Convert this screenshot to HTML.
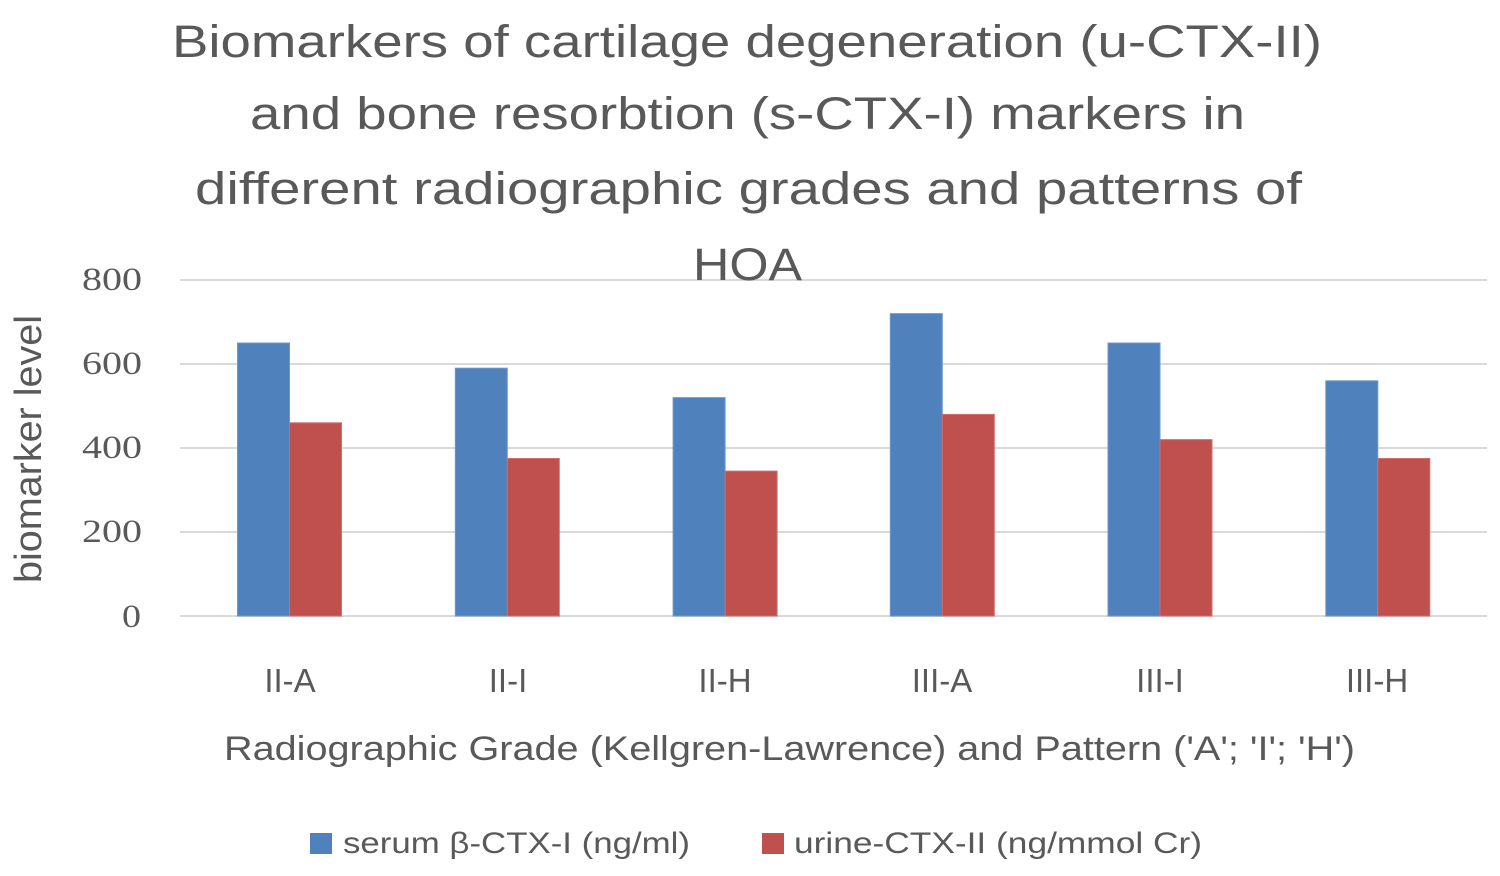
<!DOCTYPE html>
<html>
<head>
<meta charset="utf-8">
<style>
  html, body { margin: 0; padding: 0; background: #ffffff; }
  svg { display: block; }
  text { fill: #595959; font-family: "Liberation Sans", sans-serif; }
  .serif { font-family: "Liberation Serif", serif; }
</style>
</head>
<body>
<svg width="1500" height="876" viewBox="0 0 1500 876" xmlns="http://www.w3.org/2000/svg">
  <rect x="0" y="0" width="1500" height="876" fill="#ffffff"/>

  <!-- Title -->
  <text x="172" y="57" font-size="45" textLength="1150" lengthAdjust="spacingAndGlyphs">Biomarkers of cartilage degeneration (u-CTX-II)</text>
  <text x="250" y="129" font-size="45" textLength="995" lengthAdjust="spacingAndGlyphs">and bone resorbtion (s-CTX-I) markers in</text>
  <text x="195" y="204" font-size="45" textLength="1107" lengthAdjust="spacingAndGlyphs">different radiographic grades and patterns of</text>

  <!-- Gridlines -->
  <g stroke="#D9D9D9" stroke-width="2">
    <line x1="180" y1="280" x2="1487" y2="280"/>
    <line x1="180" y1="364" x2="1487" y2="364"/>
    <line x1="180" y1="448" x2="1487" y2="448"/>
    <line x1="180" y1="532" x2="1487" y2="532"/>
    <line x1="180" y1="616" x2="1487" y2="616"/>
  </g>

  <text x="693" y="280" font-size="45" textLength="109" lengthAdjust="spacingAndGlyphs">HOA</text>

  <!-- Y tick labels -->
  <g class="serif" font-size="33" text-anchor="end">
    <text class="serif" x="142" y="290" textLength="60" lengthAdjust="spacingAndGlyphs">800</text>
    <text class="serif" x="142" y="374" textLength="60" lengthAdjust="spacingAndGlyphs">600</text>
    <text class="serif" x="142" y="458" textLength="60" lengthAdjust="spacingAndGlyphs">400</text>
    <text class="serif" x="142" y="542" textLength="60" lengthAdjust="spacingAndGlyphs">200</text>
    <text class="serif" x="141" y="627" textLength="19" lengthAdjust="spacingAndGlyphs">0</text>
  </g>

  <!-- Y axis title -->
  <text transform="translate(41,449) rotate(-90)" x="0" y="0" font-size="38" text-anchor="middle" textLength="268" lengthAdjust="spacingAndGlyphs">biomarker level</text>

  <!-- Bars: blue -->
  <g fill="#4F81BD" stroke="#6E98CC" stroke-width="1">
    <rect x="237.5" y="343" width="52" height="273"/>
    <rect x="455.3" y="368.2" width="52" height="247.8"/>
    <rect x="673.1" y="397.6" width="52" height="218.4"/>
    <rect x="890.3" y="313.6" width="52" height="302.4"/>
    <rect x="1108" y="343" width="52" height="273"/>
    <rect x="1325.8" y="380.8" width="52" height="235.2"/>
  </g>
  <!-- Bars: red -->
  <g fill="#C0504D" stroke="#CF6F6C" stroke-width="1">
    <rect x="289.5" y="422.8" width="52" height="193.2"/>
    <rect x="507.3" y="458.5" width="52" height="157.5"/>
    <rect x="725.1" y="471.1" width="52" height="144.9"/>
    <rect x="942.3" y="414.4" width="52" height="201.6"/>
    <rect x="1160" y="439.6" width="52" height="176.4"/>
    <rect x="1377.8" y="458.5" width="52" height="157.5"/>
  </g>

  <!-- Category labels -->
  <g font-size="33" text-anchor="middle">
    <text x="290" y="692">II-A</text>
    <text x="508" y="692">II-I</text>
    <text x="725" y="692">II-H</text>
    <text x="942" y="692">III-A</text>
    <text x="1160" y="692">III-I</text>
    <text x="1377" y="692">III-H</text>
  </g>

  <!-- X axis title -->
  <text x="224" y="760" font-size="34" textLength="1131" lengthAdjust="spacingAndGlyphs">Radiographic Grade (Kellgren-Lawrence) and Pattern ('A'; 'I'; 'H')</text>

  <!-- Legend -->
  <rect x="310" y="833" width="22" height="21" fill="#4F81BD"/>
  <text x="343" y="853" font-size="30" textLength="347" lengthAdjust="spacingAndGlyphs">serum β-CTX-I (ng/ml)</text>
  <rect x="762" y="833" width="22" height="21" fill="#C0504D"/>
  <text x="794" y="853" font-size="30" textLength="408" lengthAdjust="spacingAndGlyphs">urine-CTX-II (ng/mmol Cr)</text>
</svg>
</body>
</html>
